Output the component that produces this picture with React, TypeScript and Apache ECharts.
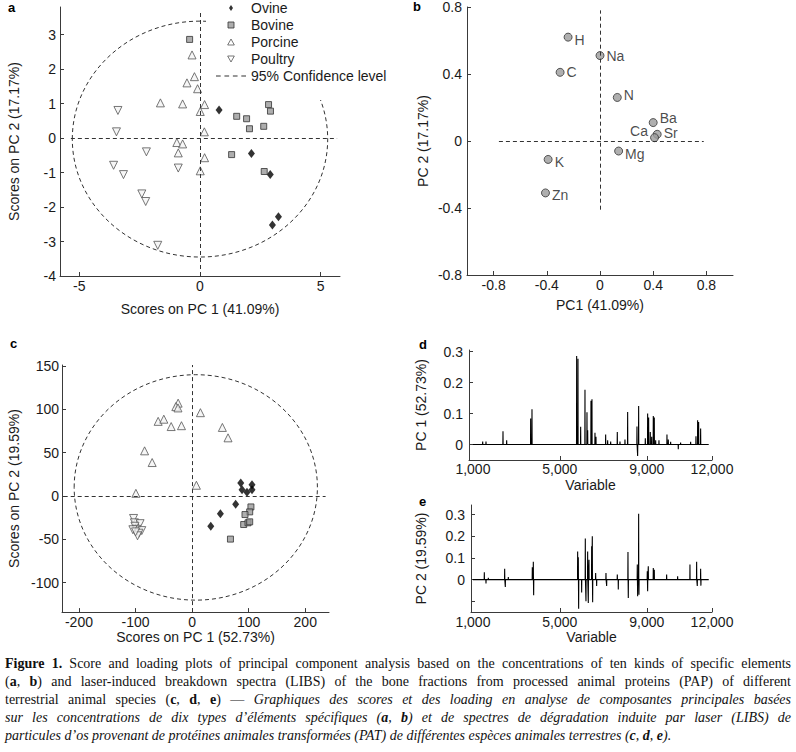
import React, { useEffect, useRef } from "react";
import * as echarts from "echarts";

// ---------- Panel a: scores on PC1/PC2 (element concentrations) ----------
const ovineA: [number, number][] = [[0.79, 0.81], [2.13, -0.45], [2.91, -1.06], [3.25, -2.28], [3.0, -2.52]];
const bovineA: [number, number][] = [[-0.43, 2.86], [1.52, 0.63], [1.93, 0.56], [2.05, 0.27], [2.64, 0.34], [2.84, 0.97], [2.92, 0.78], [1.31, -0.48], [2.66, -0.97]];
const porcineA: [number, number][] = [[-0.33, 2.41], [-0.23, 1.78], [-0.54, 1.6], [-0.1, 1.43], [-1.64, 1.02], [-0.72, 0.99], [0.19, 0.97], [0.01, 0.77], [0.18, 0.18], [-0.96, -0.13], [-0.72, -0.17], [-0.9, -0.43], [0.19, -0.57], [0.01, -0.95]];
const poultryA: [number, number][] = [[-3.4, 0.8], [-3.46, 0.18], [-2.22, -0.4], [-3.58, -0.79], [-3.17, -1.06], [-0.9, -0.87], [-2.41, -1.62], [-2.25, -1.84], [-1.75, -3.11]];
const ellipseA = [0, -0.03, 5.29, 3.42]; // centre x, centre y, semi-axis x, semi-axis y
const refLinesA = { h: [-5.35, 5.68], v: [-4, 3.65] };

// ---------- Panel b: loadings ----------
const elements = ["H", "Na", "C", "N", "Ba", "Sr", "Ca", "Mg", "K", "Zn"];
const pc1Loadings = [-0.24, 0, -0.3, 0.13, 0.4, 0.43, 0.41, 0.14, -0.39, -0.41];
const pc2Loadings = [0.62, 0.51, 0.41, 0.26, 0.11, 0.04, 0.02, -0.06, -0.11, -0.31];
const refLinesB = { h: [-0.76, 0.78], v: [-0.41, 0.78] };

// ---------- Panel c: scores on PC1/PC2 (LIBS) ----------
const ovineC: [number, number][] = [[86, 14.9], [88.3, 7.2], [105.9, 13], [105.9, 7.2], [97, 4.2], [77, -9.6], [50, -20.7], [33, -34.9]];
const bovineC: [number, number][] = [[104, -12.7], [101.8, -18.4], [93.5, -21.5], [91.2, -33], [98.8, -31], [101.8, -29.9], [67.8, -49.8]];
const porcineC: [number, number][] = [[-24.7, 107], [-28.8, 103], [-25, 101.5], [-60, 86], [-50, 88.5], [-37, 80], [-18.8, 81], [14.7, 96], [53.5, 79], [63.5, 67], [-84, 52], [-70.6, 38.5], [7.6, 12.3], [-99.4, 3]];
const poultryC: [number, number][] = [[-103.5, -26], [-102, -31], [-92, -32], [-101, -35], [-98, -38.5], [-104.7, -39], [-89, -40], [-94, -43], [-96.5, -46], [-100, -41.5]];
const ellipseC = [6.5, 9.8, 215, 130];
const refLinesC = { h: [-227, 236], v: [-134, 151] };

// ---------- Panels d, e: loading spectra (variable, loading) ----------
const spectrumRange = [1000, 11850];
const pc1Spectrum: [number, number][] = [
  [1450, 0.01], [1602, 0.01], [2384, 0.043], [2553, 0.014], [3657, 0.084], [3718, 0.114],
  [5773, 0.286], [5834, 0.277], [5957, 0.057], [6156, 0.177], [6248, 0.104], [6280, 0.046],
  [6432, 0.141], [6478, 0.146], [6616, 0.038], [6662, 0.025], [7107, 0.032], [7199, 0.014],
  [7338, 0.01], [7643, 0.04], [7766, 0.01], [7996, 0.016], [8119, 0.105], [8548, 0.058],
  [8579, -0.037], [8625, 0.124], [8932, 0.02], [9039, 0.1], [9085, 0.087], [9161, 0.04],
  [9224, 0.025], [9299, 0.092], [9345, 0.087], [9408, 0.014], [9560, 0.014], [9928, 0.032],
  [9989, 0.016], [10097, 0.009], [10449, -0.015], [10556, 0.006], [11017, 0.009], [11262, 0.027],
  [11339, 0.078], [11385, 0.073], [11477, 0.052],
];
const pc2Spectrum: [number, number][] = [
  [1525, 0.034], [1602, -0.018], [1709, 0.008], [2461, 0.05], [2491, -0.034], [2629, 0.012],
  [3733, 0.057], [3779, 0.082], [3795, -0.072], [5819, 0.13], [5849, 0.103], [5865, -0.135],
  [6003, -0.06], [6171, 0.19], [6202, -0.1], [6279, 0.13], [6309, -0.108], [6340, 0.092],
  [6463, 0.154], [6493, 0.2], [6509, -0.105], [6647, 0.03], [6693, -0.03], [7122, 0.03],
  [7153, -0.03], [7643, 0.023], [7689, -0.046], [8134, 0.128], [8149, -0.085], [8563, 0.07],
  [8579, -0.077], [8625, 0.305], [8640, -0.07], [9023, 0.038], [9039, -0.054], [9069, 0.062],
  [9299, 0.054], [9345, 0.046], [9913, 0.023], [10419, 0.015], [10986, 0.07], [11293, 0.082],
  [11323, -0.03], [11477, 0.05], [11490, -0.028],
];

// ---------- styling ----------
const FONT = '"Liberation Sans", Arial, Helvetica, sans-serif';
const AXIS = "#3a3a3a";
const TXT = "#1a1a1a";
const DASH = [4, 3];

const bLabelPlace: Record<string, { position: string; offset: [number, number] }> = {
  H: { position: "right", offset: [0, 3] },
  Na: { position: "right", offset: [0, 0] },
  C: { position: "right", offset: [0, 0] },
  N: { position: "right", offset: [0, -2] },
  Ba: { position: "right", offset: [0, -5] },
  Sr: { position: "right", offset: [0, -1] },
  Ca: { position: "left", offset: [0, -7] },
  Mg: { position: "right", offset: [0, 3] },
  K: { position: "right", offset: [0, 3] },
  Zn: { position: "right", offset: [0, 2] },
};

type AxisOpts = {
  grid: number; min: number; max: number; labels: number[]; ticks?: number[];
  name: string; nameGap: number; margin: number; fmt?: (v: number) => string;
};
function valueAxis(o: AxisOpts) {
  return {
    type: "value", gridIndex: o.grid, min: o.min, max: o.max,
    name: o.name, nameLocation: "middle", nameGap: o.nameGap,
    nameTextStyle: { fontSize: 14, color: TXT, fontFamily: FONT },
    axisLine: { show: true, onZero: false, lineStyle: { color: AXIS, width: 1 } },
    axisTick: { show: true, inside: true, length: 4, customValues: o.ticks ?? o.labels, lineStyle: { color: AXIS } },
    axisLabel: {
      show: true, customValues: o.labels, margin: o.margin, fontSize: 14, color: TXT, fontFamily: FONT,
      formatter: o.fmt ?? ((v: number) => String(v)),
    },
    splitLine: { show: false },
  };
}
const thousands = (v: number) => v.toLocaleString("en-US");

const groupStyle: Record<string, any> = {
  Ovine: { symbol: "diamond", symbolSize: [7, 9], itemStyle: { color: "#000" } },
  Bovine: { symbol: "rect", symbolSize: 6, itemStyle: { color: "#9a9a9a", borderColor: "#333", borderWidth: 1 } },
  Porcine: { symbol: "triangle", symbolSize: 8, itemStyle: { color: "#f4f4f4", borderColor: "#555", borderWidth: 1 } },
  Poultry: { symbol: "triangle", symbolRotate: 180, symbolSize: 8, itemStyle: { color: "#f4f4f4", borderColor: "#555", borderWidth: 1 } },
};

function scatter(name: string, data: [number, number][], axis: number, extra: any = {}) {
  return { type: "scatter", name, xAxisIndex: axis, yAxisIndex: axis, data, z: 3, ...groupStyle[name], ...extra };
}
function refLines(r: { h: number[]; v: number[] }) {
  return {
    silent: true, symbol: ["none", "none"], label: { show: false },
    lineStyle: { type: DASH, color: "#333", width: 1 },
    data: [
      [{ coord: [r.h[0], 0] }, { coord: [r.h[1], 0] }],
      [{ coord: [0, r.v[0]] }, { coord: [0, r.v[1]] }],
    ],
  };
}
function ellipse(data: number[], axis: number) {
  return {
    type: "custom", name: "95% Confidence level", xAxisIndex: axis, yAxisIndex: axis,
    dimensions: ["cx", "cy", "rx", "ry"], encode: { x: 0, y: 1 }, data: [data], silent: true, z: 1,
    renderItem: (_p: any, api: any) => {
      const c = api.coord([api.value(0), api.value(1)]);
      const s = api.size([api.value(2), api.value(3)]);
      return {
        type: "ellipse", shape: { cx: c[0], cy: c[1], rx: s[0], ry: s[1] },
        style: { fill: "none", stroke: "#333", lineWidth: 1, lineDash: DASH },
      };
    },
  };
}
function spikes(peaks: [number, number][]) {
  const pts: [number, number][] = [[spectrumRange[0], 0]];
  for (const [x, h] of peaks) pts.push([x - 6, 0], [x, h], [x + 6, 0]);
  pts.push([spectrumRange[1], 0]);
  return pts;
}
function spectrum(peaks: [number, number][], axis: number) {
  return {
    type: "line", xAxisIndex: axis, yAxisIndex: axis, data: spikes(peaks), showSymbol: false,
    symbol: "none", lineStyle: { color: "#000", width: 1.1 }, silent: true,
  };
}

const option: any = {
  animation: false,
  backgroundColor: "#fff",
  textStyle: { fontFamily: FONT },
  grid: [
    { left: 60, top: 7, width: 280, height: 269 },
    { left: 467, top: 7, width: 266, height: 268 },
    { left: 62, top: 365, width: 267, height: 248 },
    { left: 469, top: 350, width: 243, height: 110 },
    { left: 471, top: 505, width: 241, height: 108 },
  ],
  xAxis: [
    valueAxis({ grid: 0, min: -5.8, max: 5.8, labels: [-5, 0, 5], name: "Scores on PC 1 (41.09%)", nameGap: 26, margin: 3 }),
    valueAxis({ grid: 1, min: -1, max: 1, labels: [-0.8, -0.4, 0, 0.4, 0.8], name: "PC1 (41.09%)", nameGap: 23, margin: 3 }),
    valueAxis({ grid: 2, min: -230, max: 242, labels: [-200, -100, 0, 100, 200], name: "Scores on PC 1 (52.73%)", nameGap: 15, margin: 3 }),
    valueAxis({ grid: 3, min: 820, max: 12000, labels: [1000, 5000, 9000, 12000], ticks: [5000, 9000, 12000], name: "Variable", nameGap: 18, margin: 2, fmt: thousands }),
    valueAxis({ grid: 4, min: 912, max: 12000, labels: [1000, 5000, 9000, 12000], ticks: [5000, 9000, 12000], name: "Variable", nameGap: 18, margin: 3, fmt: thousands }),
  ],
  yAxis: [
    valueAxis({ grid: 0, min: -4, max: 3.8, labels: [-4, -3, -2, -1, 0, 1, 2, 3], name: "Scores on PC 2 (17.17%)", nameGap: 39, margin: 4 }),
    valueAxis({ grid: 1, min: -0.8, max: 0.8, labels: [-0.8, -0.4, 0, 0.4, 0.8], name: "PC 2 (17.17%)", nameGap: 37, margin: 5 }),
    valueAxis({ grid: 2, min: -134, max: 151, labels: [-100, -50, 0, 50, 100, 150], name: "Scores on PC 2 (19.59%)", nameGap: 41, margin: 3 }),
    valueAxis({ grid: 3, min: -0.05, max: 0.305, labels: [0, 0.1, 0.2, 0.3], name: "PC 1 (52.73%)", nameGap: 41, margin: 6 }),
    valueAxis({ grid: 4, min: -0.15, max: 0.345, labels: [0, 0.1, 0.2, 0.3], ticks: [-0.1, 0, 0.1, 0.2, 0.3], name: "PC 2 (19.59%)", nameGap: 43, margin: 6 }),
  ],
  legend: {
    orient: "vertical", left: 206, top: 0, padding: [1, 6, 17, 10],
    itemWidth: 30, itemHeight: 6, itemGap: 3, backgroundColor: "#fff", selectedMode: false, z: 10,
    symbolKeepAspect: true,
    textStyle: { fontSize: 14, fontFamily: FONT, color: TXT, lineHeight: 14 },
    data: [
      { name: "Ovine", icon: "path://M4,0L8,6L4,12L0,6Z", itemStyle: { color: "#000", borderWidth: 0 } },
      { name: "Bovine", icon: "path://M0,0h10v10h-10z", itemStyle: { color: "#9a9a9a", borderColor: "#333", borderWidth: 1 } },
      { name: "Porcine", icon: "path://M5,0L10,9L0,9Z", itemStyle: { color: "#fff", borderColor: "#555", borderWidth: 1 } },
      { name: "Poultry", icon: "path://M0,0L10,0L5,9Z", itemStyle: { color: "#fff", borderColor: "#555", borderWidth: 1 } },
      { name: "95% Confidence level", icon: "path://M0,0h5v1h-5zM9,0h5v1h-5zM18,0h5v1h-5zM27,0h5v1h-5z", itemStyle: { color: "#333", borderWidth: 0 } },
    ],
  },
  graphic: [
    { type: "text", left: 8, top: 1, style: { text: "a", font: `bold 13px ${FONT}`, fill: "#000" } },
    { type: "text", left: 413, top: 0, style: { text: "b", font: `bold 13px ${FONT}`, fill: "#000" } },
    { type: "text", left: 10, top: 337, style: { text: "c", font: `bold 13px ${FONT}`, fill: "#000" } },
    { type: "text", left: 419, top: 338, style: { text: "d", font: `bold 13px ${FONT}`, fill: "#000" } },
    { type: "text", left: 419, top: 495, style: { text: "e", font: `bold 13px ${FONT}`, fill: "#000" } },
  ],
  series: [
    ellipse(ellipseA, 0),
    scatter("Ovine", ovineA, 0, { markLine: refLines(refLinesA) }),
    scatter("Bovine", bovineA, 0),
    scatter("Porcine", porcineA, 0),
    scatter("Poultry", poultryA, 0),
    {
      type: "scatter", name: "Elements", xAxisIndex: 1, yAxisIndex: 1, symbol: "circle", symbolSize: 8, z: 3,
      itemStyle: { color: "#9b9b9b", borderColor: "#333", borderWidth: 1 },
      label: { show: true, formatter: "{b}", fontSize: 14, color: TXT, fontFamily: FONT, distance: 2 },
      data: elements.map((n, i) => ({ name: n, value: [pc1Loadings[i], pc2Loadings[i]], label: bLabelPlace[n] })),
      markLine: refLines(refLinesB),
    },
    ellipse(ellipseC, 2),
    scatter("Ovine", ovineC, 2, { markLine: refLines(refLinesC) }),
    scatter("Bovine", bovineC, 2),
    scatter("Porcine", porcineC, 2),
    scatter("Poultry", poultryC, 2),
    spectrum(pc1Spectrum, 3),
    spectrum(pc2Spectrum, 4),
  ],
};

const lineStyle: React.CSSProperties = {
  whiteSpace: "nowrap", textAlign: "justify", textAlignLast: "justify", height: 18,
};

export default function App() {
  const ref = useRef<HTMLDivElement>(null);
  useEffect(() => {
    const chart = echarts.init(ref.current!, null, { renderer: "svg" });
    chart.setOption(option);
    return () => chart.dispose();
  }, []);
  return (
    <div style={{ position: "absolute", left: 0, top: 0, width: 796, height: 752, background: "#fff" }}>
      <div ref={ref} style={{ position: "absolute", left: 0, top: 0, width: 796, height: 645 }} />
      <div
        style={{
          position: "absolute", left: 5, top: 655, width: 786, fontFamily: '"Liberation Serif", "Times New Roman", serif',
          fontSize: 14, lineHeight: "18px", color: "#111",
        }}
      >
        <div style={lineStyle}>
          <b>Figure 1.</b> Score and loading plots of principal component analysis based on the concentrations of ten kinds of specific elements
        </div>
        <div style={lineStyle}>
          (<b>a</b>, <b>b</b>) and laser-induced breakdown spectra (LIBS) of the bone fractions from processed animal proteins (PAP) of different
        </div>
        <div style={lineStyle}>
          terrestrial animal species (<b>c</b>, <b>d</b>, <b>e</b>) — <i>Graphiques des scores et des loading en analyse de composantes principales basées</i>
        </div>
        <div style={{ ...lineStyle, fontStyle: "italic" }}>
          sur les concentrations de dix types d’éléments spécifiques (<b>a</b>, <b>b</b>) et de spectres de dégradation induite par laser (LIBS) de
        </div>
        <div style={{ whiteSpace: "nowrap", fontStyle: "italic", height: 18 }}>
          particules d’os provenant de protéines animales transformées (PAT) de différentes espèces animales terrestres (<b>c</b>, <b>d</b>, <b>e</b>).
        </div>
      </div>
    </div>
  );
}
